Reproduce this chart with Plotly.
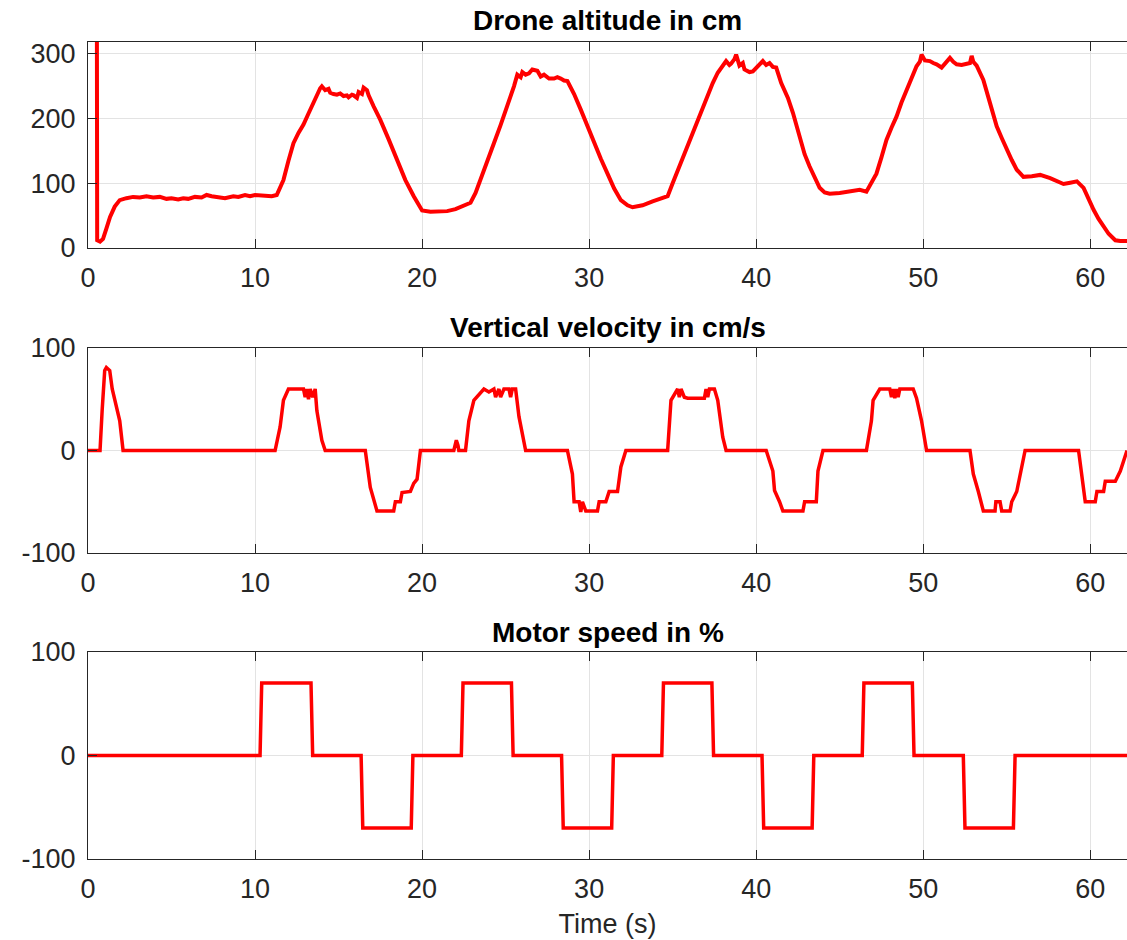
import plotly.graph_objects as go

# Drone flight log: altitude, vertical velocity and motor command over time
alt_time = [0.50, 0.55, 0.72, 0.9, 1.1, 1.32, 1.6, 1.9, 2.3, 2.7, 3.1, 3.5, 3.9, 4.3, 4.7,
            5.0, 5.4, 5.7, 6.0, 6.4, 6.8, 7.1, 7.4, 7.8, 8.2, 8.7, 9.0, 9.4, 9.7, 10.0,
            10.3, 10.6, 11.0, 11.3, 11.5, 11.7, 12.0, 12.2, 12.3, 12.6, 12.8, 12.9, 13.2,
            13.4, 13.5, 13.7, 13.9, 14.0, 14.2, 14.4, 14.5, 14.7, 14.9, 15.1, 15.3, 15.5,
            15.6, 15.8, 15.9, 16.1, 16.2, 16.4, 16.5, 16.7, 16.8, 17.1, 17.5, 18.0, 18.5,
            19.0, 19.5, 20.0, 20.5, 21.0, 21.5, 22.0, 22.5, 22.9, 23.2, 23.5, 23.9, 24.3,
            24.7, 25.1, 25.3, 25.5, 25.7, 25.9, 26.0, 26.2, 26.4, 26.6, 26.9, 27.1, 27.3,
            27.6, 27.9, 28.1, 28.3, 28.5, 28.7, 29.1, 29.5, 29.9, 30.3, 30.7, 31.1, 31.5,
            31.9, 32.3, 32.6, 33.2, 33.8, 34.3, 34.7, 35.0, 35.4, 35.8, 36.2, 36.6, 37.0,
            37.4, 37.7, 38.0, 38.2, 38.4, 38.5, 38.7, 38.8, 39.0, 39.2, 39.3, 39.6, 39.8,
            40.1, 40.4, 40.6, 40.8, 41.0, 41.2, 41.5, 41.9, 42.2, 42.6, 42.9, 43.2, 43.5,
            43.8, 44.1, 44.4, 45.0, 45.6, 46.2, 46.6, 46.9, 47.2, 47.5, 47.8, 48.1, 48.4,
            48.7, 49.0, 49.3, 49.6, 49.8, 49.9, 50.1, 50.4, 50.6, 50.8, 51.1, 51.3, 51.6,
            51.8, 52.0, 52.3, 52.6, 52.8, 52.9, 53.0, 53.2, 53.6, 54.0, 54.4, 54.7, 55.0,
            55.3, 55.6, 56.0, 56.5, 57.0, 57.6, 58.0, 58.4, 58.8, 59.2, 59.6, 59.9, 60.2,
            60.5, 60.8, 61.1, 61.5, 61.8, 62.3]
altitude_cm = [900, 12, 10, 14, 30, 48, 64, 74, 77, 79, 78, 80, 78, 79, 76,
               77, 75, 77, 76, 79, 78, 82, 80, 79, 77, 80, 79, 82, 80, 82,
               81, 81, 80, 82, 92, 105, 135, 152, 162, 178, 186, 191, 208,
               219, 226, 238, 247, 250, 244, 246, 240, 238, 237, 239, 235, 236,
               233, 237, 236, 232, 241, 238, 248, 244, 236, 219, 198, 168, 135,
               105, 80, 58, 56, 56, 57, 60, 65, 70, 85, 105, 135, 162,
               190, 219, 232, 250, 268, 264, 272, 268, 270, 276, 274, 265, 268,
               262, 262, 264, 262, 259, 258, 238, 214, 188, 162, 138, 115, 92,
               74, 66, 63, 66, 72, 77, 80, 100, 126, 152, 178, 204, 229,
               255, 271, 282, 289, 283, 285, 292, 299, 282, 286, 276, 272, 273,
               282, 289, 283, 286, 280, 279, 255, 232, 209, 172, 145, 126, 108,
               93, 86, 84, 85, 87, 90, 87, 100, 115, 140, 167, 186, 203,
               225, 245, 262, 281, 288, 299, 290, 289, 286, 284, 279, 285, 294,
               288, 284, 283, 284, 286, 297, 288, 282, 260, 224, 188, 170, 152,
               136, 121, 110, 111, 113, 108, 104, 99, 101, 103, 93, 75, 59,
               45, 33, 22, 12, 11, 11]

vel_time = [0, 0.72, 0.85, 1.0, 1.1, 1.3, 1.45, 1.6, 1.9, 2.1, 11.2, 11.5, 11.7, 12.0, 12.9,
            13.0, 13.1, 13.2, 13.3, 13.45, 13.6, 13.7, 14.0, 14.2, 16.6, 16.9, 17.1, 17.3,
            18.3, 18.4, 18.7, 18.8, 19.3, 19.5, 19.7, 19.9, 21.9, 22.05, 22.15, 22.2, 22.6,
            22.8, 23.1, 23.3, 23.7, 24.0, 24.3, 24.4, 24.6, 24.7, 24.9, 25.2, 25.3, 25.4,
            25.6, 25.8, 26.1, 26.2, 28.7, 29.0, 29.1, 29.4, 29.5, 29.6, 29.8, 30.5, 30.6,
            31.0, 31.2, 31.7, 31.9, 32.2, 34.7, 34.9, 35.3, 35.4, 35.5, 35.7, 35.9, 36.9,
            37.0, 37.1, 37.2, 37.5, 37.7, 38.0, 38.2, 40.6, 41.0, 41.1, 41.4, 41.6, 42.8,
            42.9, 43.6, 43.7, 44.0, 46.6, 46.9, 47.0, 47.4, 48.0, 48.1, 48.2, 48.3, 48.4,
            48.5, 48.6, 49.4, 49.6, 49.9, 50.2, 52.8, 53.0, 53.3, 53.6, 54.3, 54.35, 54.6,
            54.7, 55.2, 55.3, 55.6, 55.8, 56.1, 59.3, 59.5, 59.7, 60.3, 60.4, 60.8, 60.9,
            61.5, 61.8, 62.2]
velocity_cms = [0, 0, 40, 78, 81, 78, 60, 50, 29, 0, 0, 23, 49, 60, 60,
                52, 60, 50, 60, 52, 60, 39, 10, 0, 0, -36, -48, -59,
                -59, -50, -50, -41, -40, -32, -28, 0, 0, 10, 5, 0, 0,
                29, 49, 53, 60, 57, 60, 52, 60, 52, 60, 60, 52, 60,
                60, 33, 7, 0, 0, -23, -50, -50, -60, -50, -59, -59, -50,
                -50, -40, -40, -16, 0, 0, 49, 60, 52, 60, 52, 51, 51,
                60, 52, 60, 60, 49, 13, 0, 0, -20, -39, -50, -59, -59,
                -50, -50, -20, 0, 0, 29, 49, 60, 60, 52, 60, 51, 60,
                52, 60, 60, 51, 29, 0, 0, -23, -40, -59, -59, -50, -50,
                -59, -59, -50, -40, -23, 0, 0, -23, -50, -50, -40, -40, -30,
                -30, -20, 0]

motor_time = [0, 10.3, 10.4, 13.35, 13.45, 16.35, 16.45, 19.35, 19.45, 22.35, 22.45,
              25.35, 25.45, 28.35, 28.45, 31.35, 31.45, 34.35, 34.45, 37.35, 37.45,
              40.35, 40.45, 43.35, 43.45, 46.35, 46.45, 49.35, 49.45, 52.4, 52.5,
              55.4, 55.5, 62.3]
motor_pct = [0, 0, 70, 70, 0, 0, -70, -70, 0, 0, 70,
             70, 0, 0, -70, -70, 0, 0, 70, 70, 0,
             0, -70, -70, 0, 0, 70, 70, 0, 0, -70,
             -70, 0, 0]

titles = ["Drone altitude in cm", "Vertical velocity in cm/s", "Motor speed in %"]
x_ticks = [0, 10, 20, 30, 40, 50, 60]
alt_ticks = [0, 100, 200, 300]
pm_ticks = [-100, 0, 100]
pm_labels = ["-100", "0", "100"]

W, H = 1127, 940
FONT = "Liberation Sans, Arial, Helvetica, sans-serif"
INK = "#262626"
GRID = "#e3e3e3"
RED = "#ff0000"

# panel boxes in pixel rows (top, bottom)
rows_px = [(42, 248), (348, 553), (652, 859)]
domains = [[1 - b / H, 1 - t / H] for t, b in rows_px]

fig = go.Figure()
series = [(alt_time, altitude_cm, 4), (vel_time, velocity_cms, 3.5),
          (motor_time, motor_pct, 3.5)]
for i, (tx, vy, lw) in enumerate(series):
    sfx = "" if i == 0 else str(i + 1)
    fig.add_trace(go.Scatter(x=tx, y=vy, mode="lines", xaxis="x" + sfx, yaxis="y" + sfx,
                             line=dict(color=RED, width=lw), showlegend=False,
                             hoverinfo="skip"))

common_x = dict(range=[0, 62.2], tickvals=x_ticks, ticks="inside", ticklen=9,
                tickcolor=INK, showline=True, linecolor=INK, linewidth=1, mirror="ticks",
                showgrid=True, gridcolor=GRID, gridwidth=1, zeroline=False,
                tickfont=dict(family=FONT, size=27, color=INK), automargin=False,
                ticklabelstandoff=6)
common_y = dict(ticks="inside", ticklen=9, tickcolor=INK, showline=True, linecolor=INK,
                linewidth=1, showgrid=True, gridcolor=GRID, gridwidth=1, zeroline=False,
                tickfont=dict(family=FONT, size=27, color=INK), automargin=False,
                ticklabelstandoff=6)

layout = dict(width=W, height=H, margin=dict(l=88, r=0, t=0, b=0),
              paper_bgcolor="white", plot_bgcolor="white", showlegend=False)
y_ranges = [[0, 318.5], [-100, 100], [-100, 100]]
y_ticks = [(alt_ticks, [str(v) for v in alt_ticks]), (pm_ticks, pm_labels),
           (pm_ticks, pm_labels)]
for i in range(3):
    sfx = "" if i == 0 else str(i + 1)
    xa = dict(common_x, domain=[0, 1], anchor="y" + sfx)
    ya = dict(common_y, domain=domains[i], range=y_ranges[i], tickvals=y_ticks[i][0],
              ticktext=y_ticks[i][1], anchor="x" + sfx)
    if i == 2:
        xa["title"] = dict(text="Time (s)", font=dict(family=FONT, size=27, color=INK),
                           standoff=10)
    layout["xaxis" + sfx] = xa
    layout["yaxis" + sfx] = ya

title_centers_px = [21, 327, 632]
layout["annotations"] = [
    dict(text="<b>%s</b>" % t, x=0.5, xref="paper", y=1 - c / H, yref="paper",
         xanchor="center", yanchor="middle", showarrow=False,
         font=dict(family=FONT, size=28, color="#000000"))
    for t, c in zip(titles, title_centers_px)
]
fig.update_layout(**layout)
fig.write_html("out.html")
